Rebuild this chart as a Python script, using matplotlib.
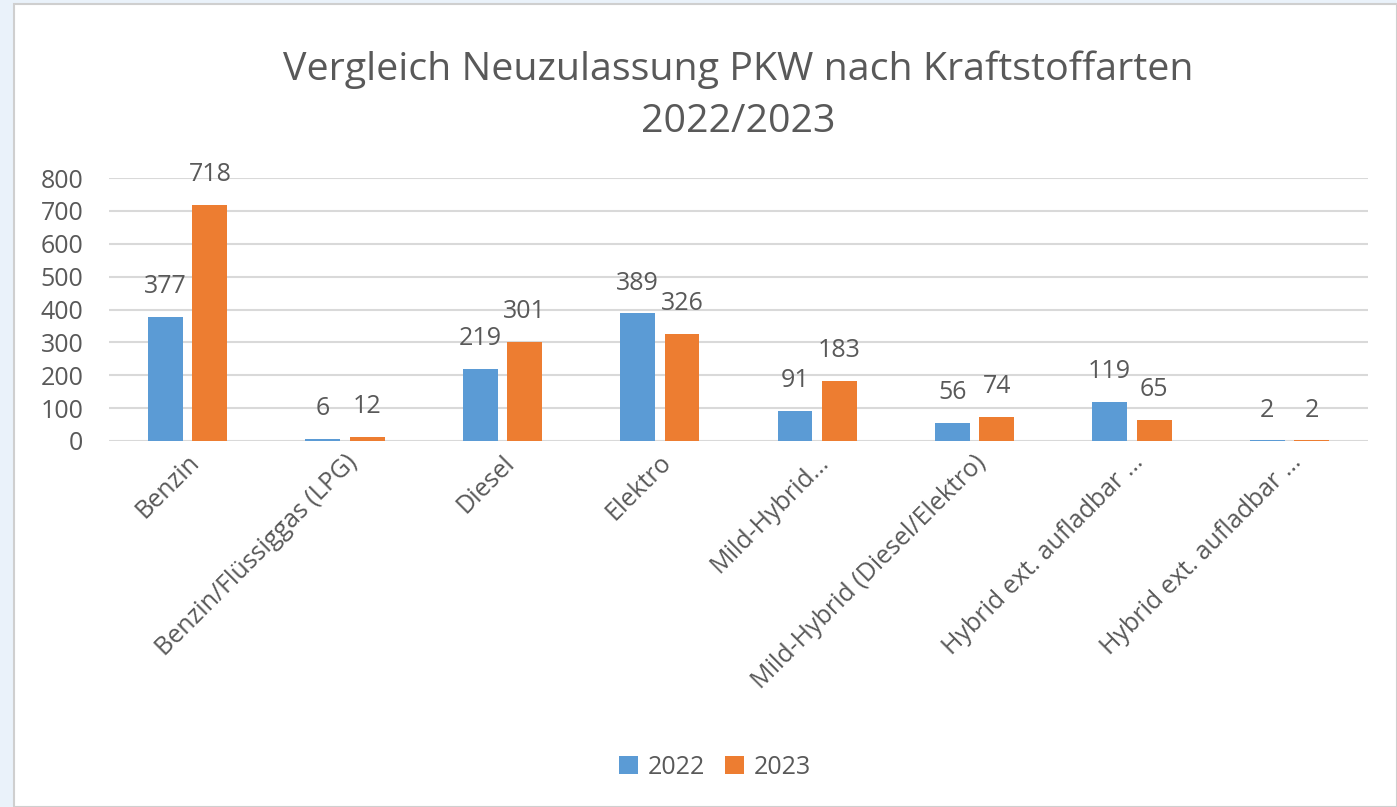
import matplotlib.pyplot as plt
from matplotlib.patches import Rectangle
from matplotlib.transforms import ScaledTranslation
import numpy as np

categories = ["Benzin", "Benzin/Flüssiggas (LPG)", "Diesel", "Elektro",
              "Mild-Hybrid…", "Mild-Hybrid (Diesel/Elektro)",
              "Hybrid ext. aufladbar …", "Hybrid ext. aufladbar …"]
values_2022 = [377, 6, 219, 389, 91, 56, 119, 2]
values_2023 = [718, 12, 301, 326, 183, 74, 65, 2]
series_names = ["2022", "2023"]
y_ticks = [0, 100, 200, 300, 400, 500, 600, 700, 800]

blue = "#5B9BD5"
orange = "#ED7D31"
text_col = "#595959"
grid_col = "#D9D9D9"
fs = 18

plt.rcParams['font.family'] = ['Open Sans', 'DejaVu Sans']

fig = plt.figure(figsize=(13.97, 8.07), dpi=100, facecolor="#EAF2FA")
fig.patches.append(Rectangle((14 / 1397, 0), 1 - 14 / 1397, 1 - 4 / 807,
                             transform=fig.transFigure, facecolor="white",
                             edgecolor="#CFCFCF", linewidth=1.5, zorder=-10))

ax = fig.add_axes([109 / 1397, 1 - 441 / 807, 1259 / 1397, 263 / 807])
ax.set_facecolor("none")

x = np.arange(len(categories))
w = 0.222
off = 0.141
b1 = ax.bar(x - off, values_2022, w, color=blue, label=series_names[0], zorder=3)
b2 = ax.bar(x + off, values_2023, w, color=orange, label=series_names[1], zorder=3)

for bars, vals in ((b1, values_2022), (b2, values_2023)):
    for rect, v in zip(bars, vals):
        ax.annotate(str(v), (rect.get_x() + rect.get_width() / 2, v),
                    xytext=(0, 17), textcoords="offset points",
                    ha="center", va="baseline", fontsize=fs, color=text_col)

ax.set_xlim(-0.5, len(categories) - 0.5)
ax.set_ylim(0, 800)
ax.set_yticks(y_ticks)
ax.yaxis.grid(True, color=grid_col, linewidth=1.5, zorder=0)
ax.set_axisbelow(True)
for s in ax.spines.values():
    s.set_visible(False)
ax.tick_params(axis="both", length=0, colors=text_col, labelsize=fs)
ax.tick_params(axis="y", pad=18.5)
ax.set_xticks(x)
ax.set_xticklabels(categories, rotation=45, ha="right", va="center",
                   rotation_mode="anchor")
ax.tick_params(axis="x", pad=13)
shift = ScaledTranslation(8 / 100, 0, fig.dpi_scale_trans)
for lbl in ax.get_xticklabels():
    lbl.set_transform(lbl.get_transform() + shift)

fig.text(738 / 1397, 1 - 70 / 807, "Vergleich Neuzulassung PKW nach Kraftstoffarten",
         ha="center", va="center", fontsize=28.4, color=text_col)
fig.text(738 / 1397, 1 - 122 / 807, "2022/2023",
         ha="center", va="center", fontsize=28.4, color=text_col)

fig.legend(loc="center", bbox_to_anchor=(715 / 1397, 1 - 767 / 807), ncol=2,
           frameon=False, fontsize=fs, labelcolor=text_col,
           handlelength=0.75, handleheight=0.75, handletextpad=0.4,
           columnspacing=0.8)

fig.savefig("out.png", dpi=100, facecolor=fig.get_facecolor())
